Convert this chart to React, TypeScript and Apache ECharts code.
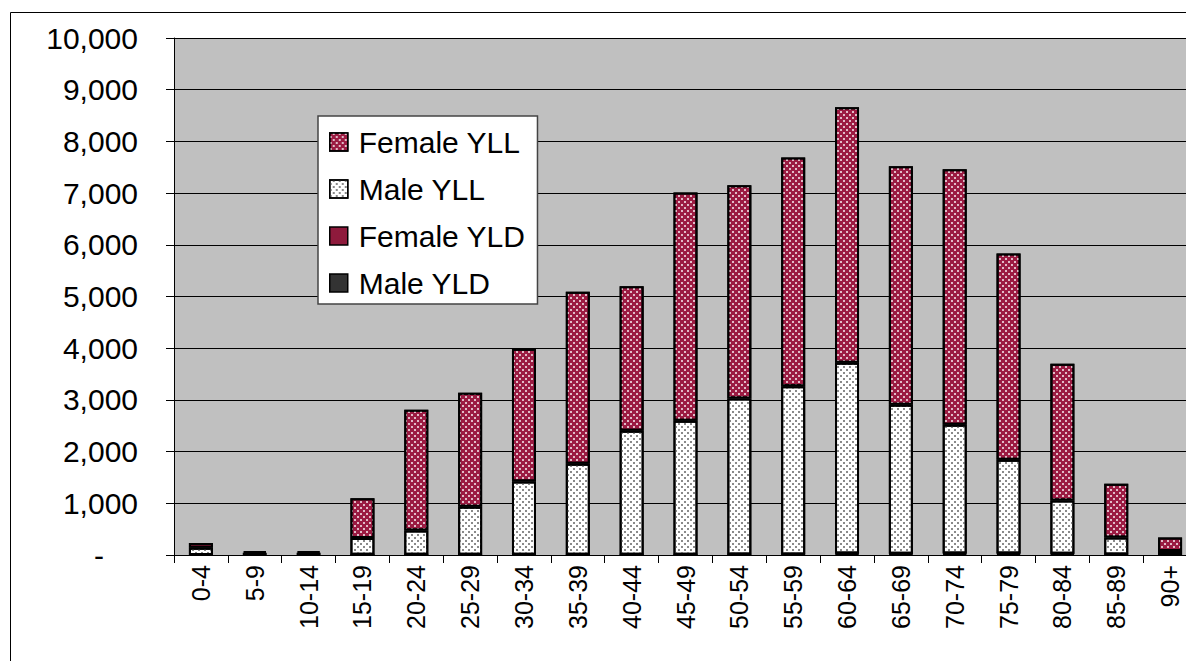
import React, { useEffect, useRef } from "react";
import * as echarts from "echarts";

// Age groups along the x axis
const ageGroups = [
  "0-4", "5-9", "10-14", "15-19", "20-24", "25-29", "30-34", "35-39", "40-44",
  "45-49", "50-54", "55-59", "60-64", "65-69", "70-74", "75-79", "80-84", "85-89", "90+",
];

// Stacked components, bottom to top
const maleYLD = [0, 45, 45, 2, 2, 2, 3, 3, 3, 3, 4, 6, 18, 15, 18, 18, 15, 5, 0];
const femaleYLD = [0, 30, 30, 2, 2, 2, 3, 3, 3, 3, 4, 6, 12, 10, 12, 12, 10, 4, 0];
const maleYLL = [140, 0, 0, 325, 470, 930, 1415, 1760, 2395, 2590, 3020, 3250, 3690, 2880, 2490, 1810, 1030, 330, 78];
const femaleYLL = [90, 0, 0, 771, 2336, 2206, 2569, 3324, 2799, 4414, 4122, 4428, 4940, 4615, 4940, 3990, 2645, 1041, 260];

const yTicks = { min: 0, max: 10000, interval: 1000 };

const FONT = "'Liberation Sans', Arial, sans-serif";

// Empty segments are left out so their borders are not drawn
const nonZero = (values: number[]) => values.map((v) => (v === 0 ? null : v));

// Small staggered dot fill used for the YLL segments
const dots = (color: string) => ({
  symbol: "rect",
  symbolSize: 1,
  color,
  dashArrayX: [[2, 4], [0, 3, 2, 1]],
  dashArrayY: [2, 1],
});

export default function App() {
  const ref = useRef<HTMLDivElement>(null);

  useEffect(() => {
    if (!ref.current) return;
    const chart = echarts.init(ref.current, undefined, { renderer: "svg" });
    const border = { borderColor: "#000", borderWidth: 2 };
    chart.setOption({
      animation: false,
      backgroundColor: "#fff",
      textStyle: { fontFamily: FONT, color: "#000" },
      graphic: [
        {
          type: "rect",
          z: -10,
          silent: true,
          shape: { x: 10.5, y: 12.5, width: 1400, height: 800 },
          style: { fill: "none", stroke: "#000", lineWidth: 1 },
        },
      ],
      grid: {
        left: 174,
        top: 38,
        width: 1023,
        bottom: 106,
        show: true,
        backgroundColor: "#C0C0C0",
        borderWidth: 0,
      },
      legend: {
        orient: "vertical",
        left: 318,
        top: 116,
        data: ["Female YLL", "Male YLL", "Female YLD", "Male YLD"],
        backgroundColor: "#fff",
        borderColor: "#444",
        borderWidth: 1.5,
        padding: [11, 12, 6, 11],
        itemWidth: 18,
        itemHeight: 18,
        itemGap: 17,
        icon: "rect",
        itemStyle: { borderColor: "#000", borderWidth: 1.5 },
        textStyle: { fontFamily: FONT, fontSize: 30, color: "#000", lineHeight: 30, padding: [0, 0, 0, 6] },
      },
      xAxis: {
        type: "category",
        data: ageGroups,
        axisLine: { lineStyle: { color: "#000", width: 1 } },
        axisTick: { show: true, length: 8, lineStyle: { color: "#000" } },
        axisLabel: { rotate: 90, margin: 10, fontSize: 25, color: "#000", fontFamily: FONT, interval: 0 },
      },
      yAxis: {
        type: "value",
        min: yTicks.min,
        max: yTicks.max,
        interval: yTicks.interval,
        axisLine: { show: true, lineStyle: { color: "#000", width: 1 } },
        axisTick: { show: true, inside: false, length: 8, lineStyle: { color: "#000" } },
        splitLine: { show: true, lineStyle: { color: "#000", width: 1 } },
        axisLabel: {
          margin: 36,
          fontSize: 30,
          color: "#000",
          fontFamily: FONT,
          formatter: (v: number) => (v === 0 ? "{z|-}" : v.toLocaleString("en-US")),
          rich: { z: { fontSize: 30, fontFamily: FONT, padding: [0, 34, 0, 0] } },
        },
      },
      series: [
        {
          name: "Male YLD",
          type: "bar",
          stack: "total",
          barWidth: 24,
          data: nonZero(maleYLD),
          itemStyle: { color: "#333333", ...border },
        },
        {
          name: "Female YLD",
          type: "bar",
          stack: "total",
          data: nonZero(femaleYLD),
          itemStyle: { color: "#8E1A3C", ...border },
        },
        {
          name: "Male YLL",
          type: "bar",
          stack: "total",
          data: nonZero(maleYLL),
          itemStyle: { color: "#FFFFFF", decal: dots("#8A8A8A"), ...border },
        },
        {
          name: "Female YLL",
          type: "bar",
          stack: "total",
          data: nonZero(femaleYLL),
          itemStyle: { color: "#9B1B42", decal: dots("rgba(255,255,255,0.7)"), ...border },
        },
      ],
    });
    return () => chart.dispose();
  }, []);

  return (
    <div
      ref={ref}
      style={{ position: "fixed", left: 0, top: 0, width: 1210, height: 661 }}
    />
  );
}
